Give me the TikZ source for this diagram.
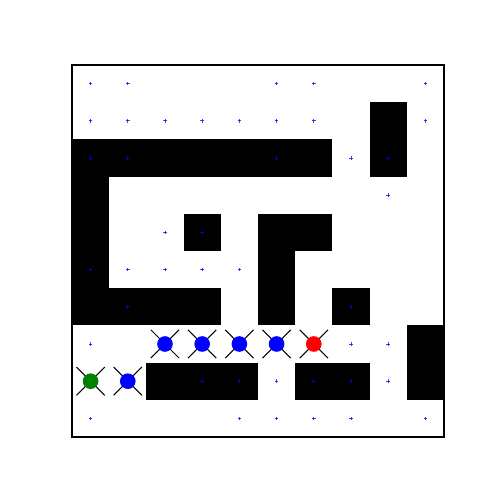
\documentclass[tikz,border=0pt]{standalone}
\usepackage{tikz}

\tikzset{
	wall/.style = {fill=black},
	waypoint/.style = {draw=blue, line width=0.7pt, opacity=0.75},
	rotor/.style = {draw=black, line width=0.8pt},
	robot/.style = {circle, inner sep=0pt, minimum size=0.42cm},
}

\begin{document}
\begin{tikzpicture}
	\useasboundingbox (-1.935,-1.156) rectangle (10.968,11.747);
%
	% obstacles
	\fill[wall] (8,7) rectangle (9,9);
	\fill[wall] (0,7) rectangle (7,8);
	\fill[wall] (0,3) rectangle (1,8);
	\fill[wall] (3,5) rectangle (4,6);
	\fill[wall] (5,5) rectangle (7,6);
	\fill[wall] (5,3) rectangle (6,6);
	\fill[wall] (0,3) rectangle (4,4);
	\fill[wall] (7,3) rectangle (8,4);
	\fill[wall] (9,1) rectangle (10,3);
	\fill[wall] (2,1) rectangle (5,2);
	\fill[wall] (6,1) rectangle (8,2);
%
	% waypoints (column/row from the top)
	\foreach \c/\r in {0/0,1/0,5/0,6/0,9/0,
		0/1,1/1,2/1,3/1,4/1,5/1,6/1,9/1,
		0/2,1/2,5/2,7/2,8/2, 8/3, 2/4,3/4,
		0/5,1/5,2/5,3/5,4/5, 1/6,7/6, 0/7,7/7,8/7,
		3/8,4/8,5/8,6/8,7/8,8/8,
		0/9,4/9,5/9,6/9,7/9,9/9}
	{
		\draw[waypoint] ({\c+0.5-0.05},{9.5-\r}) -- ({\c+0.5+0.05},{9.5-\r});
		\draw[waypoint] ({\c+0.5},{9.5-\r-0.05}) -- ({\c+0.5},{9.5-\r+0.05});
	}
%
	% robots
	\foreach \c/\r/\col [count=\i] in {2/7/blue,3/7/blue,4/7/blue,5/7/blue,6/7/red,
		0/8/green!50!black,1/8/blue}
	{
		\draw[rotor] ({\c+0.5-0.38},{9.5-\r-0.38}) -- ({\c+0.5+0.38},{9.5-\r+0.38});
		\draw[rotor] ({\c+0.5-0.38},{9.5-\r+0.38}) -- ({\c+0.5+0.38},{9.5-\r-0.38});
		\node[robot, fill=\col] (robot\i) at ({\c+0.5},{9.5-\r}) {};
	}
%
	\draw[line width=0.8pt] (0,0) rectangle (10,10);
\end{tikzpicture}
\end{document}
